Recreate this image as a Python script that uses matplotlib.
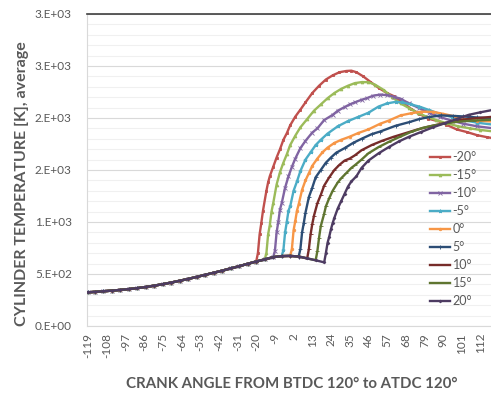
import math
import numpy as np
import matplotlib
matplotlib.use("Agg")
import matplotlib.pyplot as plt
from matplotlib.ticker import MultipleLocator, FuncFormatter

# ---------------- data ----------------
# shared compression / expansion curve before ignition
comp_angles = [-119, -115, -110, -105, -100, -95, -90, -85, -80, -75, -70, -65, -60,
               -55, -50, -45, -40, -35, -30, -25, -20, -15, -10, -5, 0, 5, 10, 15, 20]
comp_temps = [324, 328, 334, 340, 347, 355, 364, 375, 388, 402, 418, 435, 453,
              472, 492, 512, 532, 554, 575, 598, 620, 640, 662, 672, 674, 668, 650, 632, 612]

labels = ["-20°", "-15°", "-10°", "-5°", "0°", "5°", "10°", "15°", "20°"]
ignition = [-20, -15, -10, -5, 0, 5, 10, 15, 20]

m20_a = [-19, -18, -17, -16, -14, -13, -12, -10, -8, -6, -4, -2, 0, 3, 6, 9, 13, 17, 21, 25, 29,
         33, 36, 39, 43, 47, 52, 57, 61, 66, 71, 76, 81, 88, 92, 98, 104, 110, 116, 120]
m20_t = [700, 880, 990, 1110, 1300, 1380, 1440, 1530, 1620, 1700, 1790, 1853, 1930, 2013, 2080,
         2150, 2240, 2310, 2370, 2410, 2440, 2452, 2455, 2440, 2400, 2350, 2290, 2240, 2210, 2150,
         2090, 2040, 1995, 1965, 1935, 1890, 1865, 1835, 1815, 1805]

m15_a = [-14, -13, -12, -11, -10, -8, -6, -4, -2, 0, 3, 6, 10, 14, 18, 22, 26, 30, 34, 38, 42,
         46, 50, 55, 60, 65, 70, 75, 80, 86, 92, 99, 106, 112, 120]
m15_t = [700, 880, 970, 1100, 1180, 1360, 1480, 1570, 1650, 1740, 1830, 1910, 1990, 2070, 2130,
         2190, 2240, 2280, 2310, 2335, 2345, 2345, 2320, 2270, 2200, 2140, 2095, 2050, 2015, 1980,
         1950, 1920, 1900, 1885, 1870]

m10_a = [-9, -8, -7, -6, -5, -3, -1, 1, 3, 6, 9, 13, 16, 20, 25, 28, 32, 35, 38, 42, 45, 49, 53,
         57, 61, 65, 70, 76, 82, 88, 95, 102, 110, 120]
m10_t = [720, 900, 1000, 1120, 1180, 1330, 1440, 1530, 1610, 1710, 1780, 1860, 1900, 1980, 2030,
         2070, 2105, 2130, 2150, 2175, 2190, 2215, 2225, 2220, 2205, 2185, 2140, 2095, 2050, 2010,
         1975, 1945, 1920, 1900]

m5_a = [-4, -3, -2, -1, 0, 2, 4, 6, 9, 12, 15, 18, 22, 28, 34, 40, 46, 52, 57, 62, 66, 71, 76,
        82, 88, 95, 102, 110, 120]
m5_t = [730, 900, 1000, 1110, 1150, 1300, 1390, 1490, 1600, 1670, 1740, 1790, 1850, 1920, 1970,
        2010, 2050, 2110, 2140, 2155, 2150, 2130, 2110, 2075, 2040, 2010, 1980, 1955, 1935]

p0_a = [1, 2, 3, 4, 5, 7, 9, 11, 13, 16, 19, 22, 26, 30, 35, 40, 46, 53, 58, 65, 71, 77, 84, 90,
        97, 102, 110, 120]
p0_t = [740, 920, 1010, 1110, 1170, 1310, 1400, 1470, 1540, 1610, 1670, 1715, 1760, 1790, 1820,
        1855, 1890, 1945, 1975, 2025, 2045, 2060, 2060, 2040, 2015, 1990, 1975, 1965]

p5_a = [6, 7, 8, 9, 11, 13, 15, 18, 21, 24, 27, 32, 37, 42, 48, 53, 62, 70, 76, 82, 89, 96, 102,
        110, 120]
p5_t = [740, 900, 990, 1090, 1240, 1330, 1430, 1500, 1570, 1620, 1665, 1710, 1760, 1800, 1845,
        1870, 1925, 1960, 1990, 2010, 2025, 2020, 2015, 2005, 1997]

p10_a = [11, 12, 13, 14, 16, 18, 20, 23, 26, 29, 32, 35, 38, 42, 48, 54, 61, 68, 75, 81, 88, 95,
         102, 109, 120]
p10_t = [740, 880, 980, 1060, 1180, 1260, 1350, 1430, 1500, 1550, 1590, 1610, 1640, 1690, 1740,
         1780, 1820, 1855, 1890, 1915, 1940, 1965, 1985, 1997, 2013]

p15_a = [16, 17, 18, 20, 21, 23, 25, 28, 30, 33, 36, 38, 42, 46, 52, 58, 64, 71, 78, 85, 92, 99,
         108, 120]
p15_t = [720, 850, 960, 1080, 1150, 1230, 1300, 1380, 1420, 1470, 1520, 1545, 1600, 1660, 1720,
         1770, 1815, 1865, 1905, 1930, 1950, 1965, 1975, 1985]

p20_a = [21, 22, 23, 24, 25, 26, 28, 30, 32, 34, 36, 39, 42, 46, 52, 58, 64, 70, 77, 84, 91, 98,
         105, 112, 120]
p20_t = [700, 800, 860, 930, 990, 1040, 1130, 1200, 1270, 1340, 1390, 1440, 1520, 1590, 1660,
         1720, 1775, 1820, 1865, 1910, 1950, 1990, 2030, 2055, 2080]

y_ticks = [0, 500, 1000, 1500, 2000, 2500, 3000]
x_tick_labels = [-119, -108, -97, -86, -75, -64, -53, -42, -31, -20, -9, 2, 13, 24, 35, 46,
                 57, 68, 79, 90, 101, 112]

# ---------------- style ----------------
colors = ["#C0504D", "#9BBB59", "#8064A2", "#4BACC6", "#F79646",
          "#2C4D75", "#772C2A", "#5F7530", "#4D3B62"]
markers = ["s", "^", "x", "*", "o", "+", "_", "_", "D"]
msizes = [1.8, 2.0, 2.4, 2.6, 1.8, 3.0, 2.6, 2.6, 1.4]

comb_a = [m20_a, m15_a, m10_a, m5_a, p0_a, p5_a, p10_a, p15_a, p20_a]
comb_t = [m20_t, m15_t, m10_t, m5_t, p0_t, p5_t, p10_t, p15_t, p20_t]


def excel_sci(v, pos=None):
    if v == 0:
        return "0.E+00"
    e = int(math.floor(math.log10(abs(v))))
    m = int(math.floor(v / 10 ** e + 0.5))
    if m >= 10:
        m //= 10
        e += 1
    return f"{m}.E+{e:02d}"


plt.rcParams['font.family'] = ['Lato', 'DejaVu Sans']
txt_col = "#595959"

fig = plt.figure(figsize=(4.91, 3.97), dpi=100)
ax = fig.add_axes([87/491, 1-326/397, 1-87/491, (326-14)/397])

ca = np.array(comp_angles)
ct = np.array(comp_temps)
for i in range(9):
    keep = ca <= ignition[i]
    xa = np.concatenate([ca[keep], comb_a[i]])
    yt = np.concatenate([ct[keep], comb_t[i]])
    ax.plot(xa, yt, color=colors[i], lw=1.7, marker=markers[i], ms=msizes[i],
            mew=0.6, label=labels[i], zorder=3 + i)

ax.set_xlim(-119.6, 118.2)
ax.set_ylim(0, 3000)
ax.set_yticks(y_ticks)
ax.yaxis.set_minor_locator(MultipleLocator(100))
ax.yaxis.set_major_formatter(FuncFormatter(excel_sci))
ax.set_xticks(x_tick_labels)
ax.set_xticklabels([str(v) for v in x_tick_labels], rotation=90)

ax.grid(axis='y', which='major', color="#d9d9d9", lw=0.8, zorder=0)
ax.grid(axis='y', which='minor', color="#f0f0f0", lw=0.8, zorder=0)
ax.set_axisbelow(True)

ax.tick_params(axis='y', which='both', length=0, pad=11, labelsize=8.5, labelcolor=txt_col)
ax.tick_params(axis='x', which='both', length=0, pad=5, labelsize=8.5, labelcolor=txt_col)

ax.spines['top'].set_color("#404040")
ax.spines['top'].set_linewidth(1.2)
ax.spines['right'].set_visible(False)
ax.spines['left'].set_color("#d9d9d9")
ax.spines['bottom'].set_color("#d9d9d9")

fig.text(22/491, 1-184/397, "CYLINDER TEMPERATURE [K], average", rotation=90,
         ha='center', va='center', fontsize=11.5, fontweight='bold', color=txt_col)
fig.text(292/491, 1-384/397, "CRANK ANGLE FROM BTDC 120° to ATDC 120°",
         ha='center', va='center', fontsize=10.8, fontweight='bold', color=txt_col)

leg = ax.legend(loc='upper left', bbox_to_anchor=(430/491, 1-151/397),
                bbox_transform=fig.transFigure, frameon=False, fontsize=9,
                handlelength=1.6, handletextpad=0.2, labelspacing=0.48,
                borderpad=0, borderaxespad=0)
for t in leg.get_texts():
    t.set_color(txt_col)

fig.savefig("out.png", dpi=100)
